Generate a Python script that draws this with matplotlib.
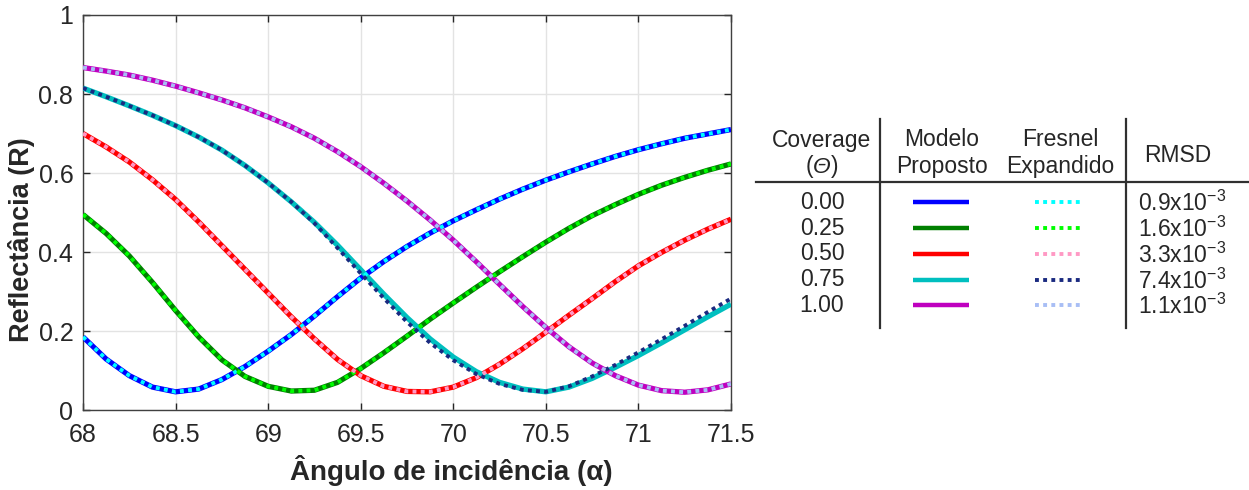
import matplotlib
matplotlib.use("Agg")
import matplotlib.pyplot as plt
from matplotlib import font_manager as fm

# ---------------- data ----------------
angle = [68.0, 68.125, 68.25, 68.375, 68.5, 68.625, 68.75, 68.875, 69.0, 69.125,
         69.25, 69.375, 69.5, 69.625, 69.75, 69.875, 70.0, 70.125, 70.25, 70.375,
         70.5, 70.625, 70.75, 70.875, 71.0, 71.125, 71.25, 71.375, 71.5]

# Modelo Proposto
R_000 = [0.185, 0.129, 0.087, 0.058, 0.046, 0.053, 0.077, 0.110, 0.149, 0.191,
         0.238, 0.287, 0.334, 0.376, 0.414, 0.448, 0.479, 0.507, 0.534, 0.559,
         0.582, 0.603, 0.623, 0.642, 0.659, 0.674, 0.688, 0.699, 0.710]
R_025 = [0.495, 0.447, 0.390, 0.323, 0.252, 0.185, 0.127, 0.085, 0.060, 0.048,
         0.050, 0.070, 0.105, 0.145, 0.187, 0.230, 0.271, 0.311, 0.350, 0.388,
         0.425, 0.460, 0.492, 0.520, 0.546, 0.569, 0.589, 0.607, 0.623]
R_050 = [0.700, 0.666, 0.628, 0.583, 0.533, 0.476, 0.416, 0.356, 0.296, 0.236,
         0.180, 0.128, 0.087, 0.060, 0.047, 0.046, 0.058, 0.082, 0.116, 0.155,
         0.197, 0.240, 0.282, 0.325, 0.365, 0.399, 0.430, 0.458, 0.483]
R_075 = [0.815, 0.793, 0.770, 0.746, 0.720, 0.691, 0.658, 0.619, 0.575, 0.527,
         0.475, 0.417, 0.355, 0.293, 0.234, 0.180, 0.134, 0.097, 0.070, 0.053,
         0.046, 0.058, 0.080, 0.108, 0.138, 0.170, 0.203, 0.236, 0.268]
R_100 = [0.867, 0.858, 0.848, 0.835, 0.820, 0.803, 0.785, 0.765, 0.742, 0.717,
         0.688, 0.654, 0.616, 0.574, 0.529, 0.481, 0.430, 0.375, 0.318, 0.262,
         0.209, 0.160, 0.119, 0.087, 0.063, 0.049, 0.045, 0.051, 0.066]

# Fresnel Expandido
F_000 = R_000
F_025 = R_025
F_050 = R_050
F_075 = [0.815, 0.793, 0.770, 0.746, 0.720, 0.691, 0.658, 0.619, 0.575, 0.527,
         0.473, 0.410, 0.346, 0.283, 0.223, 0.170, 0.126, 0.091, 0.066, 0.051,
         0.046, 0.060, 0.085, 0.114, 0.146, 0.179, 0.213, 0.248, 0.282]
F_100 = R_100

coverage_labels = ["0.00", "0.25", "0.50", "0.75", "1.00"]
rmsd_mantissa = ["0.9", "1.6", "3.3", "7.4", "1.1"]

model_colors = ["#0000FF", "#008000", "#FF0000", "#00BFBF", "#BF00BF"]
fresnel_colors = ["#00FFFF", "#00FF00", "#FF99C4", "#1A2A80", "#A8BEF5"]

xticks = [68, 68.5, 69, 69.5, 70, 70.5, 71, 71.5]
xticklabels = ["68", "68.5", "69", "69.5", "70", "70.5", "71", "71.5"]
yticks = [0, 0.2, 0.4, 0.6, 0.8, 1.0]
yticklabels = ["0", "0.2", "0.4", "0.6", "0.8", "1"]

# ---------------- fonts ----------------
avail = {f.name for f in fm.fontManager.ttflist}
base_font = "Liberation Sans" if "Liberation Sans" in avail else "DejaVu Sans"
has_narrow = "Liberation Sans Narrow" in avail
narrow_font = "Liberation Sans Narrow" if has_narrow else base_font
plt.rcParams["font.family"] = [base_font, "DejaVu Sans"]
plt.rcParams["mathtext.fontset"] = "custom"
plt.rcParams["mathtext.rm"] = base_font
plt.rcParams["mathtext.it"] = base_font + ":italic"

W, H = 1249, 490
fig = plt.figure(figsize=(W / 100, H / 100), dpi=100)

def fx(px):
    return px / W

def fy(py):
    return 1 - py / H

ax = fig.add_axes([fx(83), fy(410), fx(731) - fx(83), fy(15) - fy(410)])

tc = "#262626"
models = [R_000, R_025, R_050, R_075, R_100]
fresnels = [F_000, F_025, F_050, F_075, F_100]
for m, f, mc, fc in zip(models, fresnels, model_colors, fresnel_colors):
    ax.plot(angle, m, color=mc, lw=3.8, solid_capstyle="butt",
            solid_joinstyle="round", zorder=3)
    ax.plot(angle, f, color=fc, lw=2.8, linestyle=(0, (1.0, 1.1)),
            dash_capstyle="butt", zorder=4)

ax.set_xlim(68, 71.5)
ax.set_ylim(0, 1)
ax.set_xticks(xticks)
ax.set_xticklabels(xticklabels)
ax.set_yticks(yticks)
ax.set_yticklabels(yticklabels)
ax.grid(True, color="#E3E3E3", lw=1.0, zorder=0)
ax.set_axisbelow(True)
ax.tick_params(direction="in", length=5, width=1, colors=tc, labelsize=18,
               top=True, right=True)
ax.tick_params(axis="x", pad=9)
ax.tick_params(axis="y", pad=7)
for sp in ax.spines.values():
    sp.set_color("#404040")
    sp.set_linewidth(1.0)

if has_narrow:
    fig.text(fx(451), fy(470), "Ângulo de incidência (α)", ha="center", va="center",
             fontsize=24, fontweight="bold", color=tc, family=[narrow_font, "DejaVu Sans"])
else:
    fig.text(fx(451), fy(470), "Ângulo de incidência (α)", ha="center", va="center",
             fontsize=20, fontweight="bold", color=tc)
fig.text(fx(22), fy(240), "Reflectância (R)", ha="center", va="center",
         rotation=90, fontsize=19.5, fontweight="bold", color=tc)

# ---------------- table legend ----------------
fs = 16.5
lc = "#303030"
fig.add_artist(plt.Line2D([fx(880), fx(880)], [fy(119), fy(328)], color=lc, lw=1.6))
fig.add_artist(plt.Line2D([fx(1126), fx(1126)], [fy(119), fy(328)], color=lc, lw=1.6))
fig.add_artist(plt.Line2D([fx(756), fx(1248)], [fy(182), fy(182)], color=lc, lw=1.6))

fig.text(fx(822), fy(140), "Coverage", ha="center", va="center", fontsize=fs, color=tc)
fig.text(fx(813), fy(166), "(", ha="right", va="center", fontsize=fs, color=tc)
fig.text(fx(822), fy(166), "Θ", ha="center", va="center", fontsize=fs, color=tc,
         fontstyle="italic")
fig.text(fx(831), fy(166), ")", ha="left", va="center", fontsize=fs, color=tc)
fig.text(fx(942), fy(140), "Modelo", ha="center", va="center", fontsize=fs, color=tc)
fig.text(fx(942), fy(166), "Proposto", ha="center", va="center", fontsize=fs, color=tc)
fig.text(fx(1060), fy(140), "Fresnel", ha="center", va="center", fontsize=fs, color=tc)
fig.text(fx(1060), fy(166), "Expandido", ha="center", va="center", fontsize=fs, color=tc)
fig.text(fx(1178), fy(155), "RMSD", ha="center", va="center", fontsize=fs, color=tc)

row_y = [202, 228, 254, 280, 305]
for i, py in enumerate(row_y):
    fig.text(fx(822), fy(py), coverage_labels[i], ha="center", va="center", fontsize=fs, color=tc)
    fig.add_artist(plt.Line2D([fx(913), fx(969)], [fy(py), fy(py)], color=model_colors[i],
                              lw=3.2, solid_capstyle="butt"))
    fig.add_artist(plt.Line2D([fx(1035), fx(1081)], [fy(py), fy(py)], color=fresnel_colors[i],
                              lw=2.8, linestyle=(0, (1.0, 1.1)), dash_capstyle="butt"))
    fig.text(fx(1138), fy(py + 1), rmsd_mantissa[i] + r"x10$^{\mathregular{-3}}$",
             ha="left", va="center", fontsize=fs, color=tc)

fig.savefig("out.png", dpi=100)
